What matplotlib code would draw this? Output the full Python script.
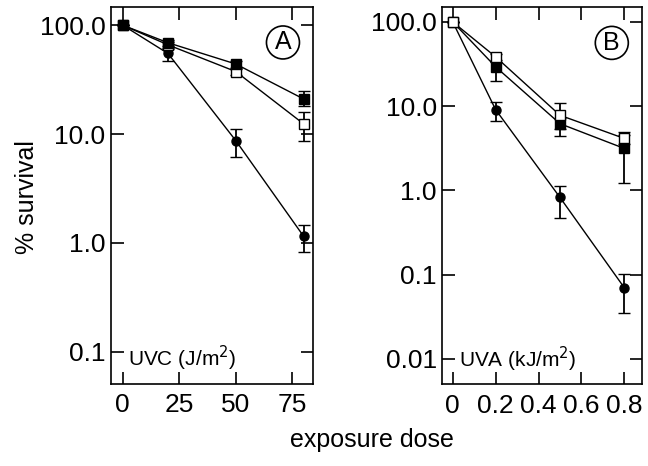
import matplotlib
matplotlib.use("Agg")
import matplotlib.pyplot as plt
import numpy as np

plt.rcParams['font.family'] = ['Liberation Sans', 'DejaVu Sans']

# Panel A (UVC)
xA = [0, 20, 50, 80]
A_fsq = [100, 69, 44, 21]
A_fsq_lo = [100, 65, 40.5, 18.2]
A_fsq_hi = [100, 73, 47, 24.6]
A_osq = [100, 66, 37.5, 12.4]
A_osq_lo = [100, 62, 35, 8.7]
A_osq_hi = [100, 70, 40, 15.8]
A_cir = [100, 55, 8.7, 1.15]
A_cir_lo = [100, 46.4, 6.1, 0.83]
A_cir_hi = [100, 60, 11.2, 1.46]

# Panel B (UVA)
xB = [0, 0.2, 0.5, 0.8]
B_fsq = [100, 29.3, 6.2, 3.15]
B_fsq_lo = [100, 19.8, 4.4, 1.23]
B_fsq_hi = [100, 33, 7.2, 4.6]
B_osq = [100, 38.5, 7.8, 4.14]
B_osq_lo = [100, 35, 5.4, 3.6]
B_osq_hi = [100, 42, 10.9, 4.95]
B_cir = [100, 9.1, 0.826, 0.070]
B_cir_lo = [100, 6.7, 0.473, 0.0353]
B_cir_hi = [100, 11.2, 1.12, 0.101]

xticksA = [0, 25, 50, 75]
xticklabelsA = ['0', '25', '50', '75']
xticksB = [0, 0.2, 0.4, 0.6, 0.8]
xticklabelsB = ['0', '0.2', '0.4', '0.6', '0.8']
yticksA = [0.1, 1, 10, 100]
yticklabelsA = ['0.1', '1.0', '10.0', '100.0']
yticksB = [0.01, 0.1, 1, 10, 100]
yticklabelsB = ['0.01', '0.1', '1.0', '10.0', '100.0']

fig = plt.figure(figsize=(6.48, 4.66), dpi=100)
axA = fig.add_axes([0.1713, 0.177, 0.3122, 0.8087])
axB = fig.add_axes([0.6826, 0.176, 0.3077, 0.8088])


def series(ax, x, y, lo, hi, marker, mfc, ms, z):
    y = np.array(y); lo = np.array(lo); hi = np.array(hi)
    ax.errorbar(x, y, yerr=[y - lo, hi - y], fmt='-' + marker, color='black',
                mfc=mfc, mec='black', ms=ms, mew=1.0, lw=1.0,
                capsize=4.3, capthick=1.3, elinewidth=1.3, zorder=z)


for ax, x, data in [
    (axA, xA, [(A_cir, A_cir_lo, A_cir_hi, 'o', 'black', 6.5, 3),
               (A_osq, A_osq_lo, A_osq_hi, 's', 'white', 6.5, 4),
               (A_fsq, A_fsq_lo, A_fsq_hi, 's', 'black', 7.2, 5)]),
    (axB, xB, [(B_cir, B_cir_lo, B_cir_hi, 'o', 'black', 6.5, 3),
               (B_fsq, B_fsq_lo, B_fsq_hi, 's', 'black', 7.2, 4),
               (B_osq, B_osq_lo, B_osq_hi, 's', 'white', 6.5, 5)])]:
    for (y, lo, hi, m, fc, ms, z) in data:
        series(ax, x, y, lo, hi, m, fc, ms, z)

for ax in (axA, axB):
    ax.set_yscale('log')
    ax.minorticks_off()
    ax.tick_params(axis='both', which='major', direction='in', length=9,
                   width=1.2, top=True, right=True, labelsize=19, pad=4)
    ax.tick_params(axis='x', pad=7)
    for s in ax.spines.values():
        s.set_linewidth(1.2)

axA.set_ylim(0.051, 148)
axA.set_xlim(-5.2, 84.3)
axA.set_xticks(xticksA)
axA.set_xticklabels(xticklabelsA)
axA.set_yticks(yticksA)
axA.set_yticklabels(yticklabelsA)
axA.minorticks_off()

axB.set_ylim(0.00505, 150)
axB.set_xlim(-0.0485, 0.881)
axB.set_xticks(xticksB)
axB.set_xticklabels(xticklabelsB)
axB.set_yticks(yticksB)
axB.set_yticklabels(yticklabelsB)
axB.minorticks_off()

axA.text(0.084, 0.045, 'UVC (J/m$^2$)', transform=axA.transAxes, fontsize=15,
         ha='left', va='baseline')
axB.text(0.084, 0.045, 'UVA (kJ/m$^2$)', transform=axB.transAxes, fontsize=15,
         ha='left', va='baseline')

for ax, lab in [(axA, 'A'), (axB, 'B')]:
    ax.text(0.85, 0.905, lab, transform=ax.transAxes, fontsize=18,
            ha='center', va='center',
            bbox=dict(boxstyle='circle,pad=0.18', fc='white', ec='black', lw=1.2))

fig.text(0.042, 0.577, '% survival', rotation=90, fontsize=18,
         ha='center', va='center')
fig.text(0.574, 0.056, 'exposure dose', fontsize=18, ha='center', va='center')

fig.savefig('out.png', dpi=100)
